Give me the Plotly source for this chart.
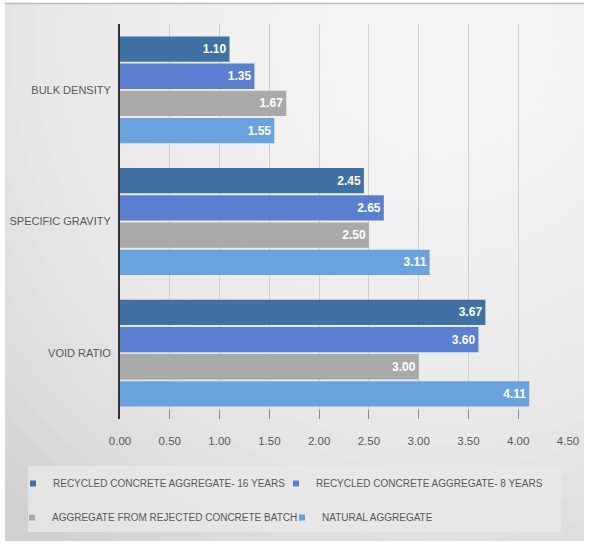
import plotly.graph_objects as go

categories = ["BULK DENSITY", "SPECIFIC GRAVITY", "VOID RATIO"]
series_names = [
    "RECYCLED CONCRETE AGGREGATE- 16 YEARS",
    "RECYCLED CONCRETE AGGREGATE- 8 YEARS",
    "AGGREGATE FROM REJECTED CONCRETE BATCH",
    "NATURAL AGGREGATE",
]
rca_16 = [1.10, 2.45, 3.67]
rca_8 = [1.35, 2.65, 3.60]
rejected = [1.67, 2.50, 3.00]
natural = [1.55, 3.11, 4.11]
x_ticks = [0, 0.5, 1.0, 1.5, 2.0, 2.5, 3.0, 3.5, 4.0, 4.5]

colors = ["#3F71A3", "#5A7FD0", "#A9A9A9", "#69A3DD"]
legend_ids = ["legend", "legend2", "legend3", "legend4"]
FONT = "Liberation Sans, Arial, sans-serif"

W, H = 589, 544
ML, MR, MT, MB = 120, 21, 24, 125
PW, PH = W - ML - MR, H - MT - MB


def px(x):
    return (x - ML) / PW


def py(y):
    return (H - MB - y) / PH


fig = go.Figure()
for name, vals, col in zip(series_names, [rca_16, rca_8, rejected, natural], colors):
    fig.add_trace(go.Bar(
        y=categories, x=vals, name=name, orientation="h",
        marker=dict(color=col, line=dict(width=0)),
        texttemplate="<b>%{x:.2f}</b>", textposition="inside",
        insidetextanchor="end",
        textfont=dict(color="white", size=12, family=FONT),
        showlegend=False,
    ))
# legend entries (small square keys as in the original)
for name, col, lg in zip(series_names, colors, legend_ids):
    fig.add_trace(go.Scatter(
        x=[None], y=[None], mode="markers", name=name,
        marker=dict(symbol="square", size=6, color=col),
        legend=lg, showlegend=True, hoverinfo="skip",
    ))

shapes = []
# background frame gray
shapes.append(dict(type="rect", xref="paper", yref="paper", layer="below",
                   x0=px(5), x1=px(584), y0=py(541), y1=py(3),
                   fillcolor="#d0d0d0", line=dict(width=0)))
# radial gradient approximation
cx, cy = 440, 40
n = 26
for i in range(n):
    r = 620 * (1 - i / n)
    shapes.append(dict(type="circle", xref="paper", yref="paper", layer="below",
                       x0=px(cx - r), x1=px(cx + r), y0=py(cy + r), y1=py(cy - r),
                       fillcolor="rgba(255,255,255,0.08)", line=dict(width=0)))
# white outer margins
for (x0, x1, y0, y1) in [(-200, 5, -200, 800), (584, 800, -200, 800),
                         (-200, 800, -200, 3), (-200, 800, 541, 800)]:
    shapes.append(dict(type="rect", xref="paper", yref="paper", layer="below",
                       x0=px(x0), x1=px(x1), y0=py(y1), y1=py(y0),
                       fillcolor="white", line=dict(width=0)))
shapes.append(dict(type="line", xref="paper", yref="paper", layer="below",
                   x0=px(5), x1=px(584), y0=py(3.5), y1=py(3.5),
                   line=dict(color="#bdbdbd", width=1.5)))
# legend box
shapes.append(dict(type="rect", xref="paper", yref="paper", layer="below",
                   x0=px(28), x1=px(561), y0=py(532), y1=py(466),
                   fillcolor="rgba(232,232,232,0.8)", line=dict(width=0)))

leg_common = dict(
    orientation="h", xref="paper", yref="paper",
    xanchor="left", yanchor="top",
    bgcolor="rgba(0,0,0,0)",
    itemwidth=30, indentation=-15,
    font=dict(family=FONT, size=10, color="#595959"),
)
# (legend x, row top y) in pixels for each legend entry
leg_pos = [(28, 469), (291, 469), (27, 503), (297, 503)]

layout_legends = {}
for lg, (lx, ly) in zip(legend_ids, leg_pos):
    layout_legends[lg] = dict(leg_common, x=px(lx), y=py(ly))

fig.update_layout(
    width=W, height=H,
    margin=dict(l=ML, r=MR, t=MT, b=MB, autoexpand=False),
    paper_bgcolor="white",
    plot_bgcolor="rgba(0,0,0,0)",
    barmode="group", bargap=0.174, bargroupgap=0.07,
    font=dict(family=FONT, size=11, color="#595959"),
    shapes=shapes,
    showlegend=True,
    xaxis=dict(
        range=[0, 4.5], tickvals=x_ticks, tickformat=".2f",
        showgrid=True, gridcolor="#cfcfcf", gridwidth=1,
        ticks="inside", ticklen=9, tickcolor="#8c8c8c",
        zeroline=False, showline=False, automargin=False,
        tickfont=dict(size=11.5, color="#595959"),
        ticklabelstandoff=13,
    ),
    yaxis=dict(
        autorange="reversed", showline=True, linecolor="#333333", linewidth=2,
        ticks="", ticklabelstandoff=5, automargin=False,
        tickfont=dict(size=11, color="#595959"),
    ),
    **layout_legends,
)

fig.write_html("out.html")
